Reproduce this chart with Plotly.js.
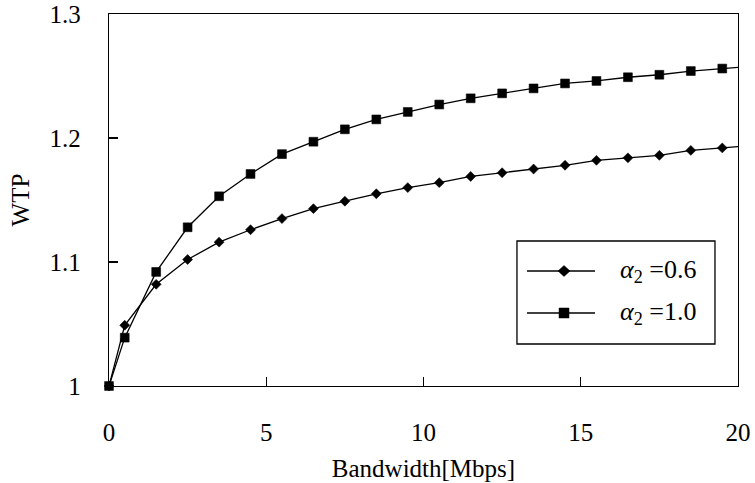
<!DOCTYPE html>
<html>
<head>
<meta charset="utf-8">
<script src="https://cdn.plot.ly/plotly-3.0.1.min.js"></script>
<style>html,body{margin:0;padding:0;background:#fff;}#chart{width:755px;height:483px;}</style>
</head>
<body>
<div id="chart"></div>
<script>
const bandwidth = [0, 0.5, 1.5, 2.5, 3.5, 4.5, 5.5, 6.5, 7.5, 8.5, 9.5, 10.5, 11.5, 12.5, 13.5, 14.5, 15.5, 16.5, 17.5, 18.5, 19.5, 20];
const wtpAlpha06 = [1.000, 1.049, 1.082, 1.102, 1.116, 1.126, 1.135, 1.143, 1.149, 1.155, 1.160, 1.164, 1.169, 1.172, 1.175, 1.178, 1.182, 1.184, 1.186, 1.190, 1.192, 1.193];
const wtpAlpha10 = [1.000, 1.039, 1.092, 1.128, 1.153, 1.171, 1.187, 1.197, 1.207, 1.215, 1.221, 1.227, 1.232, 1.236, 1.240, 1.244, 1.246, 1.249, 1.251, 1.254, 1.256, 1.257];
const seriesNames = ['<i>α</i><sub>2</sub> =0.6', '<i>α</i><sub>2</sub> =1.0'];
const yTicks = [1, 1.1, 1.2, 1.3];
const xTicks = [0, 5, 10, 15, 20];

// last point (x = 20) is the line reaching the frame edge, drawn without a marker
function sizes(s) { return bandwidth.map((x, i) => i === bandwidth.length - 1 ? 0 : s); }

const font = 'Liberation Serif, Times New Roman, serif';
const traces = [
  {x: bandwidth, y: wtpAlpha06, name: seriesNames[0], mode: 'lines+markers', cliponaxis: false,
   line: {color: '#000', width: 1.3},
   marker: {symbol: 'diamond', size: sizes(7.6), color: '#000', opacity: 1, line: {color: '#000', width: 0.6}}},
  {x: bandwidth, y: wtpAlpha10, name: seriesNames[1], mode: 'lines+markers', cliponaxis: false,
   line: {color: '#000', width: 1.3},
   marker: {symbol: 'square', size: sizes(8.8), color: '#000', opacity: 1, line: {color: '#000', width: 0.6}}}
];

// custom legend box (paper coordinates)
const lg = {x0: 0.6486, x1: 0.9634, y0: 0.1129, y1: 0.3898, rows: [0.3091, 0.1962],
            lineX0: 0.6645, lineX1: 0.7727, markX: 0.7234, textX: 0.8092};
const shapes = [
  {type: 'rect', xref: 'paper', yref: 'paper', x0: lg.x0, x1: lg.x1, y0: lg.y0, y1: lg.y1,
   line: {color: '#000', width: 1.3}, fillcolor: '#fff', layer: 'above'}
];
const annotations = [];
lg.rows.forEach((ry, i) => {
  shapes.push({type: 'line', xref: 'paper', yref: 'paper', x0: lg.lineX0, x1: lg.lineX1, y0: ry, y1: ry,
               line: {color: '#000', width: 1.3}, layer: 'above'});
  if (i === 0) {
    shapes.push({type: 'path', xref: 'paper', yref: 'paper', xsizemode: 'pixel', ysizemode: 'pixel',
                 xanchor: lg.markX, yanchor: ry, path: 'M-6,0 L0,5.5 L6,0 L0,-5.5 Z',
                 fillcolor: '#000', line: {color: '#000', width: 0.5}, layer: 'above'});
  } else {
    shapes.push({type: 'rect', xref: 'paper', yref: 'paper', xsizemode: 'pixel', ysizemode: 'pixel',
                 xanchor: lg.markX, yanchor: ry, x0: -5, x1: 5, y0: -5, y1: 5,
                 fillcolor: '#000', line: {color: '#000', width: 0.5}, layer: 'above'});
  }
  annotations.push({xref: 'paper', yref: 'paper', x: lg.textX, y: ry, xanchor: 'left', yanchor: 'middle',
                    text: seriesNames[i], showarrow: false, font: {family: font, size: 26, color: '#000'}});
});

const layout = {
  width: 755, height: 483,
  margin: {l: 109, r: 17, t: 14, b: 97},
  paper_bgcolor: '#fff', plot_bgcolor: '#fff',
  font: {family: font, size: 25, color: '#000'},
  showlegend: false,
  shapes: shapes, annotations: annotations,
  xaxis: {range: [0, 20], tickvals: xTicks, ticks: 'inside', ticklen: 9, tickcolor: '#000', tickwidth: 1.3,
          showgrid: false, zeroline: false, showline: true, linecolor: '#000', linewidth: 1.3, mirror: true,
          ticklabelstandoff: 24, tickfont: {size: 25},
          title: {text: 'Bandwidth[Mbps]', font: {size: 25}, standoff: 14}},
  yaxis: {range: [1, 1.3], tickvals: yTicks, ticks: 'inside', ticklen: 9, tickcolor: '#000', tickwidth: 1.3,
          showgrid: false, zeroline: false, showline: true, linecolor: '#000', linewidth: 1.3, mirror: true,
          ticklabelstandoff: 22, tickfont: {size: 25},
          title: {text: 'WTP', font: {size: 25}, standoff: 12}}
};
Plotly.newPlot('chart', traces, layout, {staticPlot: true, displayModeBar: false});
</script>
</body>
</html>
